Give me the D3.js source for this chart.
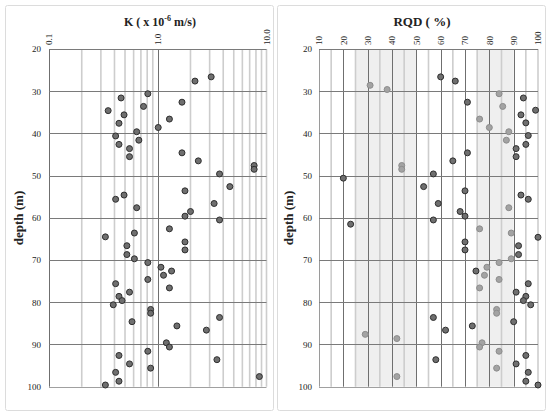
<!DOCTYPE html>
<html lang="en">
<head>
<meta charset="UTF-8" />
<style>
  body { margin: 0; background: #fff; }
  text { font-family: "Liberation Serif", "Times New Roman", serif; fill: #222; }
</style>
</head>
<body>
<svg width="550" height="417"></svg>
<script src="https://d3js.org/d3.v7.min.js"></script>
<script>
// depth axis
var depthTicks = [20, 30, 40, 50, 60, 70, 80, 90, 100];

// K panel (log scale)
var kTicks = [0.1, 1, 10];
var kTickLabels = ["0.1", "1.0", "10.0"];
var kDepth = [26.6, 27.6, 30.6, 31.6, 32.6, 33.6, 34.6, 35.6, 36.6, 37.6, 38.6, 39.6, 40.6, 41.6, 42.6, 43.6, 44.6, 45.5, 46.5, 47.6, 48.5, 49.6,
  52.6, 53.6, 54.6, 55.6, 56.6, 57.6, 58.5, 59.6, 60.5, 62.6, 63.6, 64.5, 65.7, 66.6, 67.6, 68.7, 69.7, 70.6, 71.7, 72.6, 73.6, 74.6,
  75.6, 76.6, 77.6, 78.6, 79.6, 80.6, 81.7, 82.6, 83.6, 84.6, 85.6, 86.6, 89.6, 90.6, 91.6, 92.6, 93.6, 94.6, 95.6, 96.6, 97.6, 98.7, 99.6];
var kValues = [3.1, 2.2, 0.81, 0.46, 1.67, 0.74, 0.35, 0.49, 1.28, 0.44, 1.01, 0.64, 0.41, 0.67, 0.44, 0.55, 1.67, 0.55, 2.36, 7.7, 7.7, 3.7,
  4.6, 1.78, 0.49, 0.41, 3.3, 0.64, 2.0, 1.78, 3.7, 1.28, 0.61, 0.33, 1.78, 0.52, 1.78, 0.52, 0.61, 0.81, 1.07, 1.34, 1.13, 0.81,
  0.41, 1.28, 0.55, 0.44, 0.47, 0.39, 0.86, 0.86, 3.7, 0.58, 1.5, 2.8, 1.2, 1.28, 0.81, 0.44, 3.5, 0.55, 0.86, 0.41, 8.6, 0.44, 0.33];

// RQD panel
var rqdTicks = [10, 20, 30, 40, 50, 60, 70, 80, 90, 100];
var rqdBands = [[25, 50], [75, 90]];
var rqdDepth = [26.6, 27.6, 28.6, 29.6, 30.6, 31.6, 32.6, 33.6, 34.5, 35.6, 36.6, 37.5, 38.6, 39.6, 40.5, 41.6, 42.6, 43.6, 44.6, 45.5, 46.5,
  47.6, 48.5, 49.6, 50.6, 52.6, 53.6, 54.6, 55.6, 56.6, 57.6, 58.5, 59.6, 60.5, 61.5, 62.6, 63.6, 64.6, 65.7, 66.6, 67.6, 68.7, 69.7,
  70.6, 71.7, 72.6, 73.6, 74.6, 75.6, 76.6, 77.6, 78.6, 79.6, 80.6, 81.7, 82.6, 83.6, 84.6, 85.6, 86.6, 87.6, 88.6, 89.6, 90.6, 91.6,
  92.6, 93.6, 94.6, 95.6, 96.6, 97.6, 98.7, 99.6];
var rqdValues = [60, 66, 31, 38, 84, 94, 71, 85.5, 99, 93, 76, 95, 80, 88, 96, 87, 95, 91, 71, 91, 65,
  44, 44, 57, 20, 53, 70, 93, 96, 59, 88, 68, 70, 57, 23, 76, 89, 100, 70, 92, 70, 92, 89,
  84, 79, 74.5, 78, 84, 96, 76, 91, 95, 94, 97, 83, 83, 57, 90, 73, 62, 29, 42, 77, 76, 84,
  95, 58, 91, 83, 96, 42, 95, 100];

var svg = d3.select("svg");

var y = d3.scaleLinear().domain([20, 100]).range([49, 386.7]);
var xK = d3.scaleLog().domain([0.1, 10]).range([49, 266.5]);
var xR = d3.scaleLinear().domain([10, 100]).range([319, 538]);

// panel frames
svg.append("rect").attr("x", 5.5).attr("y", 5.5).attr("width", 268).attr("height", 405)
  .attr("rx", 2).attr("fill", "none").attr("stroke", "#dcdcdc");
svg.append("rect").attr("x", 277.5).attr("y", 5.5).attr("width", 268).attr("height", 405)
  .attr("rx", 2).attr("fill", "none").attr("stroke", "#dcdcdc");

function hLines(g, x0, x1) {
  g.selectAll(".hl").data(depthTicks).enter().append("line")
    .attr("x1", x0).attr("x2", x1)
    .attr("y1", function (d) { return Math.round(y(d)) + 0.5; })
    .attr("y2", function (d) { return Math.round(y(d)) + 0.5; })
    .attr("stroke", function (d) { return d === 100 ? "#a0a0a0" : "#7a7a7a"; })
    .attr("stroke-width", 1);
}

function depthAxis(g, xPos) {
  var ax = g.append("g").attr("transform", "translate(" + xPos + ",0)")
    .call(d3.axisLeft(y).tickValues(depthTicks).tickSize(0).tickPadding(0));
  ax.select(".domain").remove();
  ax.selectAll("text").style("font-family", "Liberation Serif").style("font-size", "9px").attr("fill", "#222");
}

function pts(g, xs, vals, depths, colorFn) {
  g.selectAll(".pt").data(vals).enter().append("circle")
    .attr("cx", function (d) { return xs(d); })
    .attr("cy", function (d, i) { return y(depths[i]); })
    .attr("r", 3)
    .attr("fill", function (d) { return colorFn(d) ? "#a3a3a3" : "#6f6f6f"; })
    .attr("stroke", function (d) { return colorFn(d) ? "#8c8c8c" : "#2e2e2e"; })
    .attr("stroke-width", 1);
}

// ---- left panel: K ----
var gK = svg.append("g");
var minorK = [];
[0.1, 1].forEach(function (dec) {
  for (var m = 2; m <= 9; m++) minorK.push(dec * m);
});
minorK.push(10);
gK.selectAll(".mn").data(minorK).enter().append("line")
  .attr("x1", function (d) { return xK(d); }).attr("x2", function (d) { return xK(d); })
  .attr("y1", y(20)).attr("y2", y(100))
  .attr("stroke", "#cdcdcd").attr("stroke-width", 1.6);
gK.selectAll(".mj").data([0.1, 1]).enter().append("line")
  .attr("x1", function (d) { return Math.round(xK(d)) + 0.5; }).attr("x2", function (d) { return Math.round(xK(d)) + 0.5; })
  .attr("y1", y(20)).attr("y2", y(100))
  .attr("stroke", "#6f6f6f").attr("stroke-width", 1);
hLines(gK, xK(0.1), xK(10));
depthAxis(gK, 41);

var axK = gK.append("g").attr("transform", "translate(0,45)")
  .call(d3.axisTop(xK).tickValues(kTicks).tickSize(0).tickFormat(function (d, i) { return kTickLabels[i]; }));
axK.select(".domain").remove();
axK.selectAll("text")
  .attr("transform", "rotate(-90)").attr("x", 0).attr("y", 0).attr("dy", "0.32em")
  .style("text-anchor", "start").style("font-family", "Liberation Serif").style("font-size", "9px").attr("fill", "#222");

var tK = svg.append("text").attr("x", 160).attr("y", 26).attr("text-anchor", "middle")
  .style("font-weight", "bold").style("font-size", "12px");
tK.append("tspan").text("K ( x 10");
tK.append("tspan").attr("dy", -5).style("font-size", "8px").text("-6");
tK.append("tspan").attr("dy", 5).text(" m/s)");

svg.append("text").attr("transform", "translate(23,218) rotate(-90)").attr("text-anchor", "middle")
  .style("font-weight", "bold").style("font-size", "13px").text("depth (m)");

pts(gK, xK, kValues, kDepth, function () { return false; });

// ---- right panel: RQD ----
var gR = svg.append("g");
gR.selectAll(".band").data(rqdBands).enter().append("rect")
  .attr("x", function (d) { return xR(d[0]); })
  .attr("width", function (d) { return xR(d[1]) - xR(d[0]); })
  .attr("y", y(20)).attr("height", y(100) - y(20))
  .attr("fill", "#efefef");
var minorR = d3.range(15, 100, 10).concat([100]);
gR.selectAll(".mn").data(minorR).enter().append("line")
  .attr("x1", function (d) { return xR(d); }).attr("x2", function (d) { return xR(d); })
  .attr("y1", y(20)).attr("y2", y(100))
  .attr("stroke", "#cdcdcd").attr("stroke-width", 1.6);
gR.selectAll(".mj").data(rqdTicks.slice(0, 9)).enter().append("line")
  .attr("x1", function (d) { return Math.round(xR(d)) + 0.5; }).attr("x2", function (d) { return Math.round(xR(d)) + 0.5; })
  .attr("y1", y(20)).attr("y2", y(100))
  .attr("stroke", function (d) { return d === 10 ? "#9a9a9a" : "#6f6f6f"; }).attr("stroke-width", 1);
hLines(gR, xR(10), xR(100));
depthAxis(gR, 312);

var axR = gR.append("g").attr("transform", "translate(0,45)")
  .call(d3.axisTop(xR).tickValues(rqdTicks).tickSize(0).tickFormat(d3.format("d")));
axR.select(".domain").remove();
axR.selectAll("text")
  .attr("transform", "rotate(-90)").attr("x", 0).attr("y", 0).attr("dy", "0.32em")
  .style("text-anchor", "start").style("font-family", "Liberation Serif").style("font-size", "9px").attr("fill", "#222");

svg.append("text").attr("x", 422).attr("y", 26).attr("text-anchor", "middle")
  .style("font-weight", "bold").style("font-size", "13px").text("RQD ( %)");

svg.append("text").attr("transform", "translate(293,218) rotate(-90)").attr("text-anchor", "middle")
  .style("font-weight", "bold").style("font-size", "13px").text("depth (m)");

pts(gR, xR, rqdValues, rqdDepth, function (v) {
  return rqdBands.some(function (b) { return v >= b[0] && v < b[1]; });
});
</script>
</body>
</html>
